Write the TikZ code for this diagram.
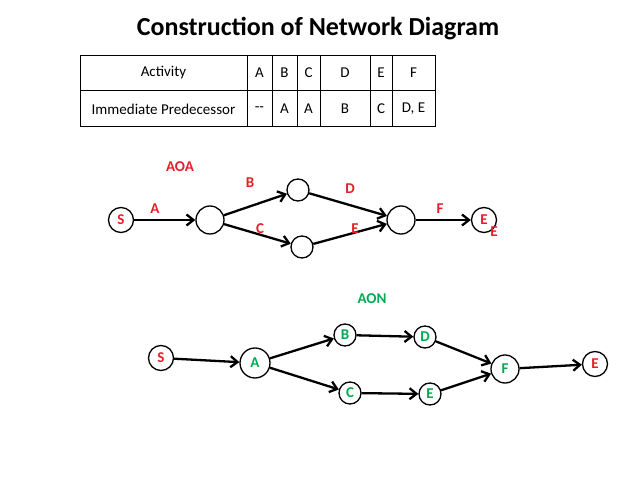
\documentclass[tikz,border=0pt]{standalone}
\usepackage{fontspec}
\setmainfont{Carlito}
\usetikzlibrary{arrows.meta}
\definecolor{aoared}{RGB}{230,30,40}
\definecolor{aongreen}{RGB}{0,170,80}
\begin{document}
\begin{tikzpicture}[x=1pt, y=-1pt, line width=2.3pt,
  every node/.style={font=\fontsize{15}{17}\selectfont},
  evt/.style={circle, draw, line width=1.3pt, minimum size=25pt, inner sep=0pt},
  sml/.style={evt, minimum size=22pt},
  big/.style={evt, minimum size=28pt},
  red/.style={text=aoared, font=\fontsize{15}{17}\selectfont\bfseries},
  grn/.style={text=aongreen, font=\fontsize{15}{17}\selectfont\bfseries},
  arr/.style={-{Straight Barb[length=7pt,width=11pt]}}]
\useasboundingbox (0,0) rectangle (638,478);

%title
\node[font=\fontsize{26}{30}\selectfont\bfseries] (title) at (318,29) {Construction of Network Diagram};

%table
\draw[line width=1pt] (80,56) rectangle (435,127);
\draw[line width=1pt] (80,91) -- (435,91);
\foreach \x in {247,272,297,320,370,392}
  \draw[line width=1pt] (\x,56) -- (\x,127);
\foreach \t/\x in {Activity/163.5, A/259.5, B/284.5, C/308.5, D/345, E/381, F/413.5}
  \node (h\t) at (\x,73) {\t};
\foreach \t/\x [count=\i] in {Immediate Predecessor/163.5, {-}{-}/259.5, A/284.5, A/308.5, B/345, C/381, {D, E}/413.5}
  \node (p\i) at (\x,109) {\t};

%AOA
\node[red] (aoa) at (180,167) {AOA};
\node[evt, red] (s1) at (121,220) {S};
\node[big] (n1) at (210,220) {};
\node[sml] (n2) at (298,190) {};
\node[sml] (n3) at (302,247) {};
\node[big] (n4) at (401,220) {};
\node[evt, red] (e1) at (484,220) {E};
\draw[arr] (s1) -- (n1);
\draw[arr] (n1) -- (n2);
\draw[arr] (n1) -- (n3);
\draw[arr] (n2) -- (n4);
\draw[arr] (n3) -- (n4);
\draw[arr] (n4) -- (e1);
\node[red] (la) at (155,209) {A};
\node[red] (lb) at (250,183) {B};
\node[red] (lc) at (260,229) {C};
\node[red] (ld) at (350,189) {D};
\node[red] (le) at (355,229) {E};
\node[red] (lf) at (440,209) {F};
\node[red] (lx) at (494,232) {E};

%AON
\node[grn] (aon) at (372,299) {AON};
\node[evt, red] (s2) at (161,358) {S};
\node[big, grn, minimum size=30pt] (a) at (255,363) {A};
\node[sml, grn] (b) at (345,335) {B};
\node[sml, grn] (d) at (425,337) {D};
\node[sml, grn] (c) at (350,393) {C};
\node[sml, grn] (e) at (430,394) {E};
\node[big, grn] (f) at (505,369) {F};
\node[evt, red] (e2) at (595,364) {E};
\draw[arr] (s2) -- (a);
\draw[arr] (a) -- (b);
\draw[arr] (a) -- (c);
\draw[arr] (b) -- (d);
\draw[arr] (c) -- (e);
\draw[arr] (d) -- (f);
\draw[arr] (e) -- (f);
\draw[arr] (f) -- (e2);
\end{tikzpicture}
\end{document}
